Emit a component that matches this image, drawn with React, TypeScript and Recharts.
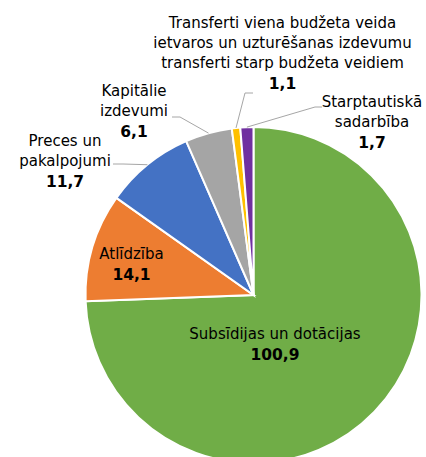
import { PieChart, Pie, Cell } from 'recharts';

// kategorijas un vērtības (milj. euro)
const categories = [
  'Subsīdijas un dotācijas',
  'Atlīdzība',
  'Preces un pakalpojumi',
  'Kapitālie izdevumi',
  'Transferti viena budžeta veida ietvaros un uzturēšanas izdevumu transferti starp budžeta veidiem',
  'Starptautiskā sadarbība',
];
const values = [100.9, 14.1, 11.7, 6.1, 1.1, 1.7];
const labelTexts = [
  ['Subsīdijas un dotācijas'],
  ['Atlīdzība'],
  ['Preces un', 'pakalpojumi'],
  ['Kapitālie', 'izdevumi'],
  ['Transferti viena budžeta veida', 'ietvaros un uzturēšanas izdevumu', 'transferti starp budžeta veidiem'],
  ['Starptautiskā', 'sadarbība'],
];
const colors = ['#70ad47', '#ed7d31', '#4472c4', '#a5a5a5', '#ffc000', '#7030a0'];

const data = categories.map((name, i) => ({ name, value: values[i] }));

// etiķešu izvietojums (teksta centrs, pirmā rinda) un līniju lūzuma punkti
const labelLayout: { x: number; y: number; leader: number[][] | null }[] = [
  { x: 275, y: 339, leader: null },
  { x: 131.5, y: 259, leader: null },
  { x: 65, y: 145.5, leader: [[123, 164], [113, 164]] },
  { x: 134, y: 96, leader: [[180, 117], [172, 117]] },
  { x: 282.5, y: 27.5, leader: [[245, 93], [253, 93]] },
  { x: 372, y: 107, leader: [[315, 107], [322, 107]] },
];

const FONT = '"DejaVu Sans", Verdana, sans-serif';

const fmt = (v: number) => v.toFixed(1).replace('.', ',');

const renderLabel = (props: any) => {
  const { cx, cy, midAngle, outerRadius, index } = props;
  const RAD = Math.PI / 180;
  const sx = cx + outerRadius * Math.cos(-midAngle * RAD);
  const sy = cy + outerRadius * Math.sin(-midAngle * RAD);
  const lay = labelLayout[index];
  const lines = labelTexts[index];
  const pts = lay.leader ? [[sx, sy], ...lay.leader].map((p) => p.join(',')).join(' ') : null;
  return (
    <g>
      {pts && <polyline points={pts} fill="none" stroke="#a6a6a6" strokeWidth={1} />}
      <text x={lay.x} y={lay.y} textAnchor="middle" fontFamily={FONT} fontSize={15} fill="#000">
        {lines.map((l, i) => (
          <tspan key={i} x={lay.x} y={lay.y + i * 20}>
            {l}
          </tspan>
        ))}
        <tspan x={lay.x} y={lay.y + (lines.length - 1) * 20 + 21} fontWeight="bold" fontSize={15.5}>
          {fmt(values[index])}
        </tspan>
      </text>
    </g>
  );
};

export default function App() {
  return (
    <div style={{ position: 'absolute', left: 0, top: 0, width: 426, height: 457, overflow: 'hidden', background: '#fff' }}>
      <PieChart width={426} height={457} margin={{ top: 0, right: 0, bottom: 0, left: 0 }}>
        <Pie
          data={data}
          dataKey="value"
          nameKey="name"
          cx={253.5}
          cy={295}
          outerRadius={168}
          startAngle={90}
          endAngle={-270}
          stroke="#fff"
          strokeWidth={2}
          label={renderLabel}
          labelLine={false}
          isAnimationActive={false}
        >
          {data.map((d, i) => (
            <Cell key={d.name} fill={colors[i]} />
          ))}
        </Pie>
      </PieChart>
    </div>
  );
}
